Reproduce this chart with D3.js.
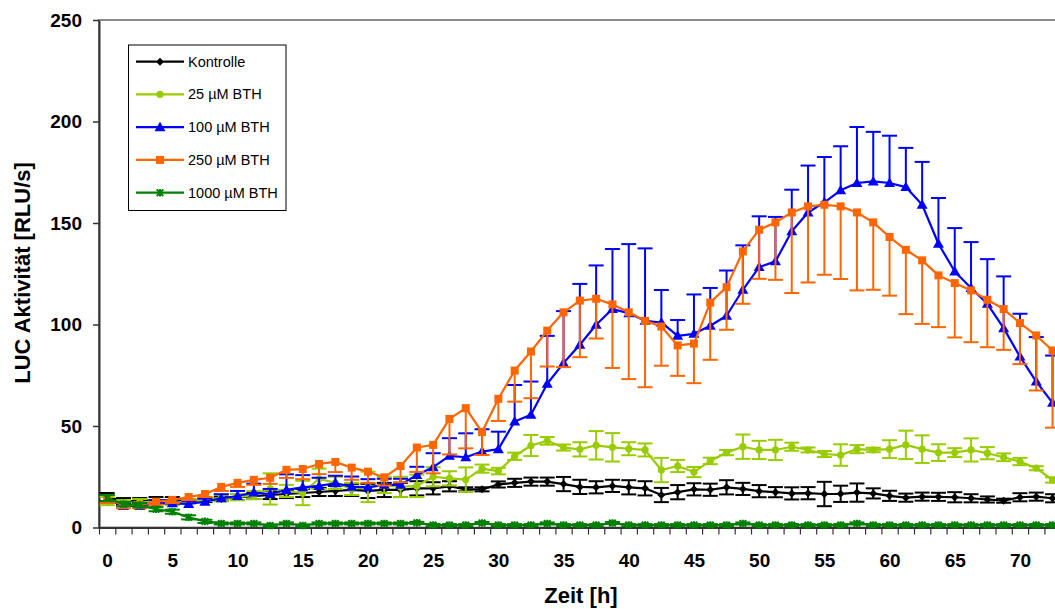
<!DOCTYPE html>
<html>
<head>
<meta charset="utf-8">
<script src="https://cdn.jsdelivr.net/npm/d3@7"></script>
<style>
  body { margin: 0; background: #fff; }
  svg { display: block; }
  text { font-family: Arial, "Liberation Sans", sans-serif; }
</style>
</head>
<body>
<svg id="chart" width="1055" height="609"></svg>
<script>
// Measurement times in hours (one reading every 75 minutes)
const hours = [0, 1.25, 2.5, 3.75, 5, 6.25, 7.5, 8.75, 10, 11.25, 12.5, 13.75, 15, 16.25, 17.5, 18.75,
  20, 21.25, 22.5, 23.75, 25, 26.25, 27.5, 28.75, 30, 31.25, 32.5, 33.75, 35, 36.25, 37.5, 38.75,
  40, 41.25, 42.5, 43.75, 45, 46.25, 47.5, 48.75, 50, 51.25, 52.5, 53.75, 55, 56.25, 57.5, 58.75,
  60, 61.25, 62.5, 63.75, 65, 66.25, 67.5, 68.75, 70, 71.25, 72.5];

const xTickLabels = [0, 5, 10, 15, 20, 25, 30, 35, 40, 45, 50, 55, 60, 65, 70];
const yTickLabels = [0, 50, 100, 150, 200, 250];

// LUC activity (RLU/s) and standard deviations per treatment
const kontrolle = [15, 13, 13, 13.5, 13.5, 13, 13.5, 14, 15, 15.5, 16, 16.5, 17, 17.5, 18, 18.5, 18, 18.5, 18.5, 19.3,
  19.3, 20.3, 18.8, 18.8, 21.2, 22, 22.6, 22.6, 21.4, 20, 19.8, 20.5, 19.8, 19.3, 16, 17.4, 18.8, 18.6, 19.8, 19,
  17.9, 17.4, 16.8, 16.9, 16.5, 16.6, 17.2, 16.8, 15.6, 14.7, 15.2, 15.1, 14.9, 14.4, 13.8, 13.2, 14.9, 15.2, 14.4];
const kontrolleErr = [2, 1.5, 1.5, 1.5, 1.5, 1, 1, 1, 1.5, 1.5, 2, 2, 2, 2, 2.5, 3, 3.5, 3.5, 3.5, 3.5,
  3, 2.5, 1, 1, 1.5, 2, 2, 2, 3.5, 3.5, 3, 3, 3.5, 3.5, 3.5, 3.5, 3, 3, 3.5, 3,
  3, 2.5, 3, 3, 6, 4, 4.5, 2.5, 2.5, 2, 2, 2, 2.5, 2, 1.5, 1, 2, 2, 2];

const bth25 = [13, 12, 12.5, 12.5, 12, 13, 14, 14.5, 15, 16, 19, 18, 17, 24, 22, 19, 20, 21, 20, 20.5,
  25, 24.2, 23.6, 29, 27.8, 35.1, 40.4, 42.7, 39.4, 38.5, 40.5, 39.5, 38.8, 38.2, 28.3, 30.3, 27.3, 32.8, 36.9, 39.8,
  38.2, 38.2, 39.8, 38.2, 36.2, 35.7, 38.6, 38.2, 38.6, 40.7, 38.6, 36.9, 36.9, 38.2, 36.6, 34.6, 32.5, 29.2, 23.4];
const bth25Err = [2, 1.5, 1.5, 1, 1, 1, 1, 1.5, 1.5, 2, 7.7, 3, 6, 5, 3, 3, 7.5, 4, 5, 5.5,
  4.7, 3.5, 6, 2, 1.6, 1.8, 5.2, 1.9, 1.5, 3.5, 7, 7, 3.2, 3.2, 6, 3, 2.5, 1.6, 1.3, 6,
  4.5, 5, 2, 1.2, 1.5, 5.3, 2, 1.1, 4.4, 7, 6.8, 4.1, 2.2, 5.7, 3, 1.9, 1.8, 1, 1.3];

const bth100 = [14, 10.6, 10.6, 12, 11.9, 11.6, 12.7, 14.4, 15.5, 17.2, 16.5, 18.5, 19.8, 20.5, 21.8, 20.1, 19.8, 21, 21, 25.9,
  29.7, 35.3, 34.6, 37.4, 38.6, 52.2, 55.5, 70.8, 81, 90, 99.9, 107.6, 105.6, 101.8, 101, 94.4, 95.4, 99.4, 104.3, 117.1,
  128.3, 131.1, 145.9, 155.2, 160.2, 166.1, 169.7, 170.5, 169.7, 167.7, 159, 139.8, 126.1, 118, 110.2, 98.2, 84.2, 71.9, 61.4];
const bth100Err = [2, 1.5, 1.5, 1.5, 1.5, 1.5, 1.5, 2, 2.5, 4.4, 2.5, 7.7, 6, 4, 3.7, 5, 4, 3, 3, 4,
  6.9, 8.7, 11.8, 11, 8.6, 18, 16.4, 23.6, 25.6, 30, 29.2, 29.6, 34, 35.7, 16, 7.8, 19.4, 18.6, 22.3, 21.9,
  25, 21.9, 20.5, 23.1, 22.3, 21.7, 27.6, 24.4, 23.3, 19.3, 21.1, 22.5, 21.4, 22.6, 22, 25.5, 21.1, 21.9, 23.3];

const bth250 = [14, 11, 11, 12.7, 13.6, 15, 16.5, 20, 22, 23.5, 24.5, 28.4, 28.8, 31.3, 32.3, 29.5, 27.5, 24.7, 30.3, 39.4,
  40.7, 53.5, 58.8, 47, 63.4, 77.3, 86.7, 97, 106, 111.8, 112.7, 109.9, 106, 101.8, 99, 89.7, 90.6, 110.8, 118.4, 136,
  146.7, 150.3, 155.2, 158.2, 159, 158.2, 155.2, 150.3, 143.1, 136.8, 131.6, 124.2, 120.4, 116.8, 112.2, 107.6, 100.7, 94.6, 87.2];
const bth250Err = [2, 1.5, 1.5, 1.5, 1.5, 1.5, 1.5, 2, 2, 2.5, 3, 4, 5, 5, 5, 6, 5.5, 4, 8, 12,
  14, 17.5, 19.8, 11.3, 10.9, 15.3, 23, 17.7, 27, 27.9, 19.6, 31.3, 32.9, 32.7, 19.3, 15, 19.5, 28.2, 21, 25.8,
  24.2, 28.3, 39.7, 37.5, 34.5, 35.8, 38.4, 33.2, 28.9, 31.7, 31.3, 25.5, 26.8, 25.5, 23.4, 20.1, 20.2, 27.1, 38];

const bth1000 = [14.5, 11.5, 11, 9, 7.8, 5, 3, 2, 2, 2, 1, 2, 1, 2, 2, 2, 2, 2, 2, 2.3,
  1.2, 1.2, 1.2, 2.2, 1.2, 1.2, 1.2, 2, 1.2, 1.2, 1.2, 2.2, 1.2, 1.2, 1.2, 1.2, 1.2, 1.2, 1.2, 2,
  1.2, 1.2, 1.2, 1.2, 1.2, 1.2, 2, 1.2, 1.2, 1.2, 1.2, 1.2, 1.2, 1.2, 1.2, 1.2, 1.2, 1.2, 1.2];
const bth1000Err = [1.5, 1, 1, 1, 1, 1, 0.8, 0.5, 0.5, 0.5, 0.5, 0.5, 0.5, 0.5, 0.5, 0.5, 0.5, 0.5, 0.5, 0.5,
  0.5, 0.5, 0.5, 0.5, 0.5, 0.5, 0.5, 0.5, 0.5, 0.5, 0.5, 0.5, 0.5, 0.5, 0.5, 0.5, 0.5, 0.5, 0.5, 0.5,
  0.5, 0.5, 0.5, 0.5, 0.5, 0.5, 0.5, 0.5, 0.5, 0.5, 0.5, 0.5, 0.5, 0.5, 0.5, 0.5, 0.5, 0.5, 0.5];

const seriesNames = ["Kontrolle", "25 \u00B5M BTH", "100 \u00B5M BTH", "250 \u00B5M BTH", "1000 \u00B5M BTH"];
const seriesColors = ["#000000", "#99CC00", "#0000FF", "#FF6600", "#008000"];

const series = [
  { name: seriesNames[0], values: kontrolle, err: kontrolleErr, color: seriesColors[0], marker: "diamond", up: true, down: true },
  { name: seriesNames[1], values: bth25, err: bth25Err, color: seriesColors[1], marker: "circle", up: true, down: true },
  { name: seriesNames[2], values: bth100, err: bth100Err, color: seriesColors[2], marker: "triangle", up: true, down: false },
  { name: seriesNames[3], values: bth250, err: bth250Err, color: seriesColors[3], marker: "square", up: false, down: true },
  { name: seriesNames[4], values: bth1000, err: bth1000Err, color: seriesColors[4], marker: "star", up: true, down: true }
];

const svg = d3.select("#chart");
const plotLeft = 99, plotTop = 20, plotBottom = 527.5;

// category-style time axis: each reading sits in the middle of a 1.25 h slot
const x = d3.scaleLinear().domain([-0.625, 73.125]).range([plotLeft, 1060.7]);
const y = d3.scaleLinear().domain([0, 250]).range([plotBottom, plotTop]);

// plot area frame
svg.append("rect")
  .attr("x", plotLeft).attr("y", plotTop)
  .attr("width", x(73.125) - plotLeft).attr("height", plotBottom - plotTop)
  .attr("fill", "none").attr("stroke", "#8c8c8c").attr("stroke-width", 2);

// y axis
svg.append("g")
  .attr("transform", `translate(${plotLeft},0)`)
  .call(d3.axisLeft(y).tickValues(yTickLabels).tickSize(6).tickSizeOuter(0).tickPadding(11))
  .call(g => g.select(".domain").attr("stroke", "#333").attr("stroke-width", 2))
  .call(g => g.selectAll(".tick line").attr("stroke", "#333").attr("stroke-width", 1.5))
  .call(g => g.selectAll(".tick text")
    .attr("font-size", 19).attr("font-weight", "bold").attr("fill", "#000")
    .style("font-family", "Arial, 'Liberation Sans', sans-serif"));

// x axis: tick marks on slot boundaries
const slotEdges = hours.map(h => h - 0.625).concat([hours[hours.length - 1] + 0.625]);
svg.append("g")
  .attr("transform", `translate(0,${plotBottom})`)
  .call(d3.axisBottom(x).tickValues(slotEdges).tickFormat("").tickSize(7).tickSizeOuter(0))
  .call(g => g.select(".domain").attr("stroke", "#333").attr("stroke-width", 2))
  .call(g => g.selectAll(".tick line").attr("stroke", "#333").attr("stroke-width", 1.2));

// x axis labels centred on every fourth reading
svg.append("g")
  .attr("transform", `translate(0,${plotBottom})`)
  .call(d3.axisBottom(x).tickValues(xTickLabels).tickSize(0).tickPadding(26))
  .call(g => g.select(".domain").remove())
  .call(g => g.selectAll(".tick text")
    .attr("font-size", 19).attr("font-weight", "bold").attr("fill", "#000")
    .style("font-family", "Arial, 'Liberation Sans', sans-serif"));

// axis titles
svg.append("text")
  .attr("transform", "translate(30,273) rotate(-90)")
  .attr("text-anchor", "middle")
  .attr("font-size", 22).attr("font-weight", "bold")
  .text("LUC Aktivit\u00E4t [RLU/s]");

svg.append("text")
  .attr("x", 581).attr("y", 603)
  .attr("text-anchor", "middle")
  .attr("font-size", 22).attr("font-weight", "bold")
  .text("Zeit [h]");

// marker shapes
function drawMarker(g, type, color) {
  if (type === "diamond") {
    g.append("path").attr("d", "M0,-4L4,0L0,4L-4,0Z").attr("fill", color);
  } else if (type === "circle") {
    g.append("circle").attr("r", 3.6).attr("fill", color);
  } else if (type === "triangle") {
    g.append("path").attr("d", "M0,-5.5L5.5,4L-5.5,4Z").attr("fill", color);
  } else if (type === "square") {
    g.append("rect").attr("x", -4).attr("y", -4).attr("width", 8).attr("height", 8).attr("fill", color);
  } else if (type === "star") {
    g.append("rect").attr("x", -2.2).attr("y", -2.2).attr("width", 4.4).attr("height", 4.4).attr("fill", color);
    g.append("path").attr("d", "M-3.3,-3.3L3.3,3.3M-3.3,3.3L3.3,-3.3M0,-3.8L0,3.8")
      .attr("stroke", color).attr("stroke-width", 2).attr("fill", "none");
  }
}

const line = d3.line()
  .x((d, i) => x(hours[i]))
  .y(d => y(d));

const capHalf = 7.5;

series.forEach(s => {
  const g = svg.append("g");

  // error bars
  const eb = g.append("g").attr("stroke", s.color).attr("stroke-width", 2).attr("fill", "none");
  s.values.forEach((v, i) => {
    const cx = x(hours[i]);
    const hi = s.up ? v + s.err[i] : v;
    const lo = s.down ? v - s.err[i] : v;
    eb.append("line").attr("x1", cx).attr("x2", cx).attr("y1", y(lo)).attr("y2", y(hi));
    if (s.up) eb.append("line").attr("x1", cx - capHalf).attr("x2", cx + capHalf).attr("y1", y(hi)).attr("y2", y(hi));
    if (s.down) eb.append("line").attr("x1", cx - capHalf).attr("x2", cx + capHalf).attr("y1", y(lo)).attr("y2", y(lo));
  });

  // series line
  g.append("path")
    .datum(s.values)
    .attr("d", line)
    .attr("fill", "none")
    .attr("stroke", s.color)
    .attr("stroke-width", 2.2)
    .attr("stroke-linejoin", "round");

  // markers
  s.values.forEach((v, i) => {
    const m = g.append("g").attr("transform", `translate(${x(hours[i])},${y(v)})`);
    drawMarker(m, s.marker, s.color);
  });
});

// legend
const legend = svg.append("g");
legend.append("rect")
  .attr("x", 128.5).attr("y", 45).attr("width", 157.5).attr("height", 165.5)
  .attr("fill", "#fff").attr("stroke", "#000").attr("stroke-width", 1);

series.forEach((s, k) => {
  const ly = 61.7 + k * 32.75;
  legend.append("line")
    .attr("x1", 136).attr("x2", 184).attr("y1", ly).attr("y2", ly)
    .attr("stroke", s.color).attr("stroke-width", 2.2);
  const m = legend.append("g").attr("transform", `translate(160,${ly})`);
  drawMarker(m, s.marker, s.color);
  legend.append("text")
    .attr("x", 188).attr("y", ly + 5)
    .attr("font-size", 14.5)
    .attr("fill", "#000")
    .text(s.name);
});
</script>
</body>
</html>
